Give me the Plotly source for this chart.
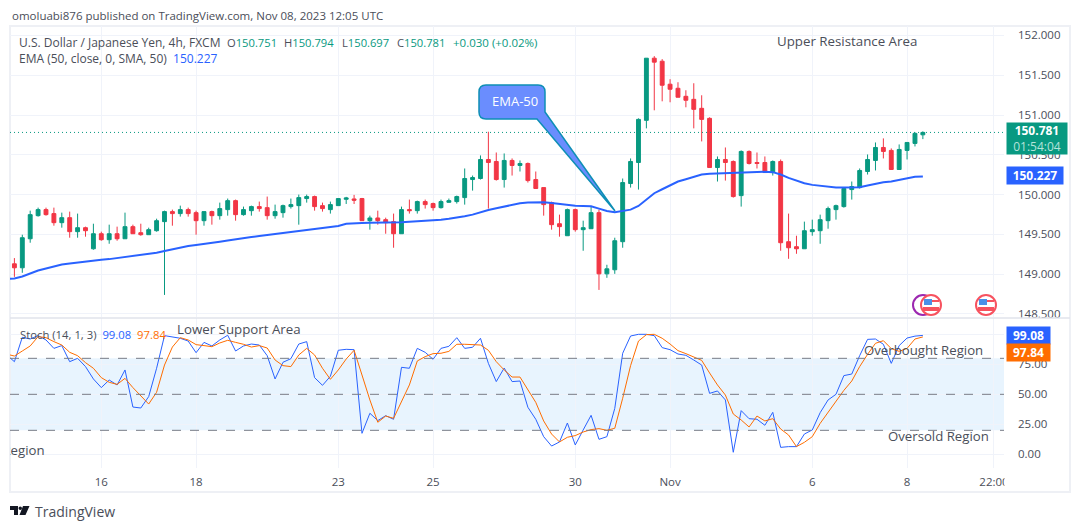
# %%
import plotly.graph_objects as go
from plotly.subplots import make_subplots

w = 1080 # page width
h = 528 # page height
font_name = "Open Sans"

# %%
# USDJPY 4h candles: open, high, low, close
candles = [
(149.130,149.202,148.966,149.080),(149.080,149.496,149.017,149.458),(149.445,149.798,149.395,149.748),
(149.735,149.836,149.723,149.811),(149.811,149.836,149.735,149.748),(149.761,149.836,149.609,149.647),
(149.647,149.773,149.584,149.710),(149.710,149.786,149.458,149.534),(149.534,149.761,149.458,149.584),
(149.584,149.597,149.471,149.546),(149.319,149.634,149.307,149.508),(149.508,149.534,149.420,149.433),
(149.433,149.622,149.382,149.508),(149.508,149.597,149.420,149.445),(149.445,149.773,149.445,149.597),
(149.597,149.622,149.508,149.508),(149.521,149.634,149.483,149.496),(149.496,149.584,149.496,149.559),
(149.546,149.697,149.534,149.672),(149.660,149.798,148.739,149.786),(149.786,149.811,149.609,149.761),
(149.761,149.861,149.723,149.811),(149.811,149.836,149.723,149.761),(149.773,149.798,149.496,149.672),
(149.672,149.786,149.609,149.786),(149.786,149.798,149.622,149.735),(149.735,149.899,149.685,149.824),
(149.811,149.950,149.735,149.924),(149.924,149.937,149.672,149.748),(149.748,149.849,149.735,149.811),
(149.798,149.861,149.735,149.849),(149.849,149.912,149.786,149.824),(149.836,149.975,149.685,149.735),
(149.735,149.874,149.697,149.786),(149.773,149.874,149.710,149.861),(149.849,149.950,149.824,149.874),
(149.861,150.000,149.622,149.962),(149.950,150.000,149.899,149.975),(149.975,149.987,149.798,149.849),
(149.861,149.899,149.786,149.824),(149.811,149.912,149.761,149.874),(149.861,149.950,149.861,149.950),
(149.941,149.971,149.882,149.958),(149.945,149.996,149.882,149.929),(149.950,149.958,149.672,149.672),
(149.672,149.735,149.559,149.706),(149.706,149.798,149.622,149.672),(149.685,149.710,149.508,149.647),
(149.660,149.761,149.332,149.508),(149.508,149.849,149.508,149.811),(149.811,149.937,149.761,149.798),
(149.798,149.924,149.761,149.912),(149.912,149.937,149.824,149.874),(149.887,149.899,149.798,149.836),
(149.836,149.937,149.824,149.912),(149.903,149.950,149.899,149.924),(149.912,149.987,149.887,149.975),
(149.962,150.328,149.874,150.202),(150.189,150.239,150.050,150.214),(150.202,150.492,150.189,150.441),
(150.441,150.790,149.824,150.403),(150.416,150.529,150.176,150.189),(150.189,150.517,150.088,150.429),
(150.429,150.454,150.239,150.366),(150.366,150.429,150.290,150.391),(150.391,150.403,150.151,150.176),
(150.189,150.290,150.076,150.076),(150.088,150.088,149.735,149.874),(149.899,149.912,149.559,149.622),
(149.634,149.748,149.471,149.597),(149.483,149.824,149.483,149.811),(149.811,149.824,149.534,149.559),
(149.559,149.672,149.294,149.584),(149.571,149.849,149.571,149.773),(149.773,149.811,148.802,149.004),
(149.004,149.118,148.954,149.067),(149.055,149.458,149.004,149.420),(149.408,150.202,149.332,150.151),
(150.139,150.454,150.088,150.416),(150.403,150.958,150.063,150.945),(150.933,151.714,150.832,151.714),
(151.714,151.740,151.059,151.664),(151.676,151.702,151.172,151.374),(151.387,151.450,151.160,151.324),
(151.336,151.412,151.223,151.223),(151.235,151.311,151.097,151.185),(151.197,151.399,150.832,151.071),
(151.084,151.248,150.668,150.945),(150.958,150.971,150.340,150.340),(150.340,150.479,150.164,150.441),
(150.441,150.592,150.176,150.403),(150.416,150.429,149.962,149.975),(149.987,150.555,149.849,150.542),
(150.542,150.555,150.378,150.391),(150.403,150.529,150.328,150.391),(150.403,150.479,150.277,150.277),
(150.277,150.429,150.239,150.416),(150.416,150.441,149.294,149.395),(149.408,149.761,149.193,149.332),
(149.345,149.483,149.256,149.319),(149.319,149.660,149.319,149.546),(149.534,149.685,149.483,149.559),
(149.546,149.748,149.382,149.685),(149.672,149.849,149.571,149.824),(149.811,149.874,149.685,149.861),
(149.849,150.088,149.836,150.076),(150.063,150.164,149.937,150.101),(150.088,150.328,150.076,150.303),
(150.290,150.504,150.252,150.441),(150.429,150.655,150.303,150.592),(150.592,150.706,150.454,150.542),
(150.555,150.580,150.315,150.315),(150.315,150.630,150.315,150.567),(150.555,150.655,150.441,150.655),
(150.643,150.782,150.605,150.769),(150.751,150.794,150.697,150.781)]
bars = list(range(len(candles)))

# EMA 50 starts one bar left of the first candle
ema = [148.940,148.945,148.971,149.008,149.046,149.071,149.097,149.122,149.134,149.147,149.160,149.172,
149.181,149.189,149.202,149.214,149.227,149.235,149.248,149.269,149.290,149.311,149.336,149.353,149.366,
149.378,149.391,149.408,149.424,149.441,149.454,149.466,149.479,149.492,149.500,149.513,149.529,149.542,
149.555,149.567,149.580,149.592,149.605,149.634,149.643,149.643,149.647,149.647,149.647,149.651,149.651,
149.660,149.664,149.672,149.681,149.685,149.697,149.710,149.727,149.748,149.782,149.807,149.828,149.849,
149.870,149.891,149.899,149.903,149.903,149.895,149.882,149.870,149.861,149.857,149.853,149.824,149.794,
149.777,149.794,149.811,149.857,149.933,150.017,150.067,150.118,150.164,150.193,150.223,150.252,150.261,
150.265,150.273,150.277,150.282,150.286,150.286,150.286,150.282,150.252,150.210,150.176,150.143,150.122,
150.109,150.097,150.088,150.088,150.088,150.092,150.113,150.134,150.155,150.164,150.185,150.202,150.223,150.227]

# Stoch K and D, same start as the EMA
stoch_k = [83.0,77.2,97.5,96.1,98.9,95.3,88.3,90.6,77.2,80.0,73.1,62.8,55.6,61.9,57.8,70.3,39.4,38.6,48.1,71.7,
98.9,97.8,96.7,94.4,84.7,93.3,90.3,95.3,99.2,86.1,90.3,91.9,91.1,82.2,62.8,76.7,79.7,91.9,93.9,63.9,57.5,
65.0,86.7,87.5,87.2,17.5,34.2,28.1,32.2,29.2,72.5,71.7,88.3,85.0,79.2,88.3,90.0,97.2,88.3,89.2,96.7,75.8,
60.6,71.9,60.6,61.1,39.2,29.2,14.7,6.9,10.3,26.1,7.8,20.3,32.5,12.5,14.7,38.3,84.2,98.6,100.0,100.0,98.9,
88.9,87.2,83.6,82.5,78.6,74.4,50.8,52.8,45.3,1.7,36.4,29.7,29.2,24.2,35.0,5.8,6.4,6.4,16.9,20.3,34.7,45.3,
50.0,65.6,66.9,82.2,95.8,96.1,91.7,75.8,90.6,96.9,98.5,99.08]
stoch_d = [83.5,81.9,86.1,90.3,98.1,97.2,93.9,91.1,85.0,82.2,76.4,71.7,63.9,60.0,58.3,63.3,55.6,48.6,41.9,51.7,
74.4,89.4,97.2,95.3,91.4,90.6,89.7,92.8,95.0,93.3,91.7,89.4,90.6,88.6,78.6,73.9,73.1,82.8,88.3,82.8,71.7,
62.5,70.3,79.4,86.7,66.1,45.3,26.7,31.9,30.0,44.4,57.8,77.8,81.4,83.9,84.2,85.8,91.7,91.7,91.7,91.1,86.7,
77.2,70.3,64.4,64.4,53.6,43.3,27.8,16.9,10.3,14.2,15.6,18.6,20.6,21.4,20.0,21.7,46.7,73.9,94.4,99.7,100.0,
96.7,91.9,86.4,83.9,81.1,78.3,67.8,57.8,49.4,33.6,28.6,22.8,31.9,27.8,29.7,21.1,16.1,6.4,10.0,14.7,25.8,
34.7,43.9,53.3,61.1,73.1,83.3,92.5,94.7,88.1,85.8,88.3,96.1,97.84]
line_x = [-1] + bars

# %%
fig = make_subplots(rows=2, cols=1, shared_xaxes=True, vertical_spacing=0.01)

fig.add_trace(go.Candlestick(x=bars,open=[c[0] for c in candles],high=[c[1] for c in candles],\
    low=[c[2] for c in candles],close=[c[3] for c in candles],whiskerwidth=0,\
    increasing_line_color="#089981",increasing_fillcolor="#089981",increasing_line_width=1,\
    decreasing_line_color="#f23645",decreasing_fillcolor="#f23645",decreasing_line_width=1),row=1,col=1)
fig.add_trace(go.Scatter(x=line_x,y=ema,mode="lines",line_color="#2962ff",line_width=2),row=1,col=1)

fig.add_trace(go.Scatter(x=line_x,y=stoch_k,mode="lines",line_color="#2962ff",line_width=1),row=2,col=1)
fig.add_trace(go.Scatter(x=line_x,y=stoch_d,mode="lines",line_color="#ff6d00",line_width=1),row=2,col=1)
# this one is cut by the left edge of the pane
fig.add_trace(go.Scatter(x=[1.15],y=[2],mode="text",text=["Region"],cliponaxis=True,\
    textfont=dict(family=font_name,size=13.2,color="#4a4e59")),row=2,col=1)

# %%
# Stoch band and levels, last price line
fig.add_hrect(y0=20,y1=80,fillcolor="rgba(33,150,243,0.1)",line_width=0,layer="below",row=2,col=1)
for level in [80,50,20]:
    fig.add_hline(y=level,line_color="#787b86",line_dash="dash",line_width=1,row=2,col=1)
fig.add_hline(y=150.781,line_color="#089981",line_dash="1px,3px",line_width=1,row=1,col=1)

# %%
tick_bars = [11,23,41,53,71,83,101,113,124]
tick_text = ["16","18","23","25","30","Nov","6","8","22:00"]

# the page comes out a little under size, so the figure is asked for a little over
fig.update_layout(width=1085,height=532,margin=dict(l=0,r=0,t=0,b=0),paper_bgcolor="white",plot_bgcolor="white",\
    showlegend=False,boxgap=0.3,font=dict(family=font_name,size=11.5,color="#4a4e59"))
fig.update_xaxes(range=[-0.557,125.27],tickvals=tick_bars,ticktext=tick_text,gridcolor="#f0f3fa",gridwidth=1,\
    zeroline=False,showline=False,ticks="",rangeslider_visible=False,ticklabelstandoff=5,domain=[10/w,1004/w])
fig.update_yaxes(side="right",range=[148.4616,152.1185],tickvals=[148.5,149,149.5,150,150.5,151,151.5,152],\
    tickformat=".3f",gridcolor="#f0f3fa",zeroline=False,showline=False,ticks="",ticklabelstandoff=13,\
    domain=[1-317/h,1-26/h],row=1,col=1)
fig.update_yaxes(side="right",range=[-11.4,113.6],tickvals=[0,25,50,75,100],\
    ticktext=["0.00","25.00","50.00","75.00",""],gridcolor="#f0f3fa",zeroline=False,showline=False,ticks="",\
    ticklabelstandoff=13,domain=[1-468/h,1-318/h],row=2,col=1)

# %%
# frame, callout, calendar icons, logo
fig.add_shape(type="rect",xref="paper",yref="paper",x0=10/w,x1=1070/w,y0=1-492/h,y1=1-26/h,\
    line_color="#eef0f5",line_width=2,layer="below")
fig.add_shape(type="line",xref="paper",yref="paper",x0=10/w,x1=1070/w,y0=1-318/h,y1=1-318/h,\
    line_color="#e0e3eb",line_width=1.5)
fig.add_shape(type="rect",xref="paper",yref="paper",x0=1004.5/w,x1=1030/w,y0=1-490/h,y1=1-469/h,\
    fillcolor="white",line_width=0)

callout = f"M {486/w} {1-85/h} L {538/w} {1-85/h} Q {545/w} {1-85/h} {545/w} {1-92/h} L {545/w} {1-112/h} "\
    f"L {615/w} {1-211/h} L {537/w} {1-119/h} L {486/w} {1-119/h} Q {479/w} {1-119/h} {479/w} {1-112/h} "\
    f"L {479/w} {1-92/h} Q {479/w} {1-85/h} {486/w} {1-85/h} Z"
fig.add_shape(type="path",path=callout,xref="paper",yref="paper",fillcolor="#6a8dfe",line_color="#0e8fb5",line_width=1.5)

fig.add_shape(type="circle",xref="paper",yref="paper",x0=913/w,x1=933/w,y0=1-315/h,y1=1-295/h,\
    fillcolor="white",line_color="#9c27b0",line_width=2)
for cx in [931,986]:
    fig.add_shape(type="circle",xref="paper",yref="paper",x0=(cx-10)/w,x1=(cx+10)/w,y0=1-315/h,y1=1-295/h,\
        fillcolor="white",line_color="#f7525f",line_width=2)
    fig.add_shape(type="rect",xref="paper",yref="paper",x0=(cx-7)/w,x1=(cx+1)/w,y0=1-305/h,y1=1-299/h,\
        fillcolor="#4a90e8",line_width=0)
    fig.add_shape(type="rect",xref="paper",yref="paper",x0=(cx+1)/w,x1=(cx+8)/w,y0=1-302/h,y1=1-300/h,\
        fillcolor="#f7525f",line_width=0)
    fig.add_shape(type="rect",xref="paper",yref="paper",x0=(cx-8)/w,x1=(cx+8)/w,y0=1-311/h,y1=1-307/h,\
        fillcolor="#f7525f",line_width=0)

logo = f"M {10/w} {1-506/h} L {18/w} {1-506/h} L {18/w} {1-515/h} L {14/w} {1-515/h} L {14/w} {1-510/h} L {10/w} {1-510/h} Z "\
    f"M {23/w} {1-506/h} L {29.5/w} {1-506/h} L {25.5/w} {1-515/h} L {19.5/w} {1-515/h} Z"
fig.add_shape(type="path",path=logo,xref="paper",yref="paper",fillcolor="#131722",line_width=0)
fig.add_shape(type="circle",xref="paper",yref="paper",x0=18.5/w,x1=22/w,y0=1-510/h,y1=1-506.5/h,fillcolor="#131722",line_width=0)

# %%
# text on the page: x, y in pixels, text, size, colour
green = "#089981"
blue = "#2962ff"
orange = "#ff6d00"
notes = [
    (10,15,"omoluabi876 published on TradingView.com, Nov 08, 2023 12:05 UTC",11.5,"#4a4e59"),
    (17,42,"U.S. Dollar / Japanese Yen, 4h, FXCM",12,"#4a4e59"),
    (225,42,f"O<span style='color:{green}'>150.751</span>",11.2,"#4a4e59"),
    (282,42,f"H<span style='color:{green}'>150.794</span>",11.2,"#4a4e59"),
    (340,42,f"L<span style='color:{green}'>150.697</span>",11.2,"#4a4e59"),
    (395,42,f"C<span style='color:{green}'>150.781</span>",11.2,"#4a4e59"),
    (451,42,"+0.030 (+0.02%)",11.5,green),
    (17,59,f"EMA (50, close, 0, SMA, 50)  <span style='color:{blue}'>150.227</span>",12,"#4a4e59"),
    (18,334,f"Stoch (14, 1, 3)  <span style='color:{blue}'>99.08</span>  <span style='color:{orange}'>97.84</span>",11.3,"#4a4e59"),
    (775,41,"Upper Resistance Area",13.3,"#4a4e59"),
    (175,329,"Lower Support Area",13.3,"#4a4e59"),
    (862,350,"Overbought Region",13.2,"#4a4e59"),
    (886,436,"Oversold Region",13.2,"#4a4e59"),
    (490,101,"EMA-50",13,"white"),
    (33,511,"TradingView",14,"#4a4e59"),
]
for x_px,y_px,text,size,color in notes:
    fig.add_annotation(xref="paper",yref="paper",x=x_px/w,y=1-y_px/h,xanchor="left",yanchor="middle",\
        text=text,showarrow=False,font=dict(family=font_name,size=size,color=color))

# price tags: x, y, width, height, text, fill
tags = [
    (1006,138,60,31,"<b>150.781</b><br><span style='color:#b5e3da'>01:54:04</span>",green),
    (1006,175.5,56,17,"<b>150.227</b>",blue),
    (1006,335.5,43,17,"<b>99.08</b>",blue),
    (1006,352.5,43,17,"<b>97.84</b>",orange),
]
for x_px,y_px,tag_w,tag_h,text,fill in tags:
    fig.add_annotation(xref="paper",yref="paper",x=x_px/w,y=1-y_px/h,xanchor="left",yanchor="middle",\
        text=text,showarrow=False,width=tag_w,height=tag_h,bgcolor=fill,borderpad=0,align="center",\
        font=dict(family=font_name,size=12,color="white"))

fig.write_html("out.html",config={"displayModeBar":False},\
    post_script="document.body.style.margin='0';document.documentElement.style.overflow='hidden';")
# %%
